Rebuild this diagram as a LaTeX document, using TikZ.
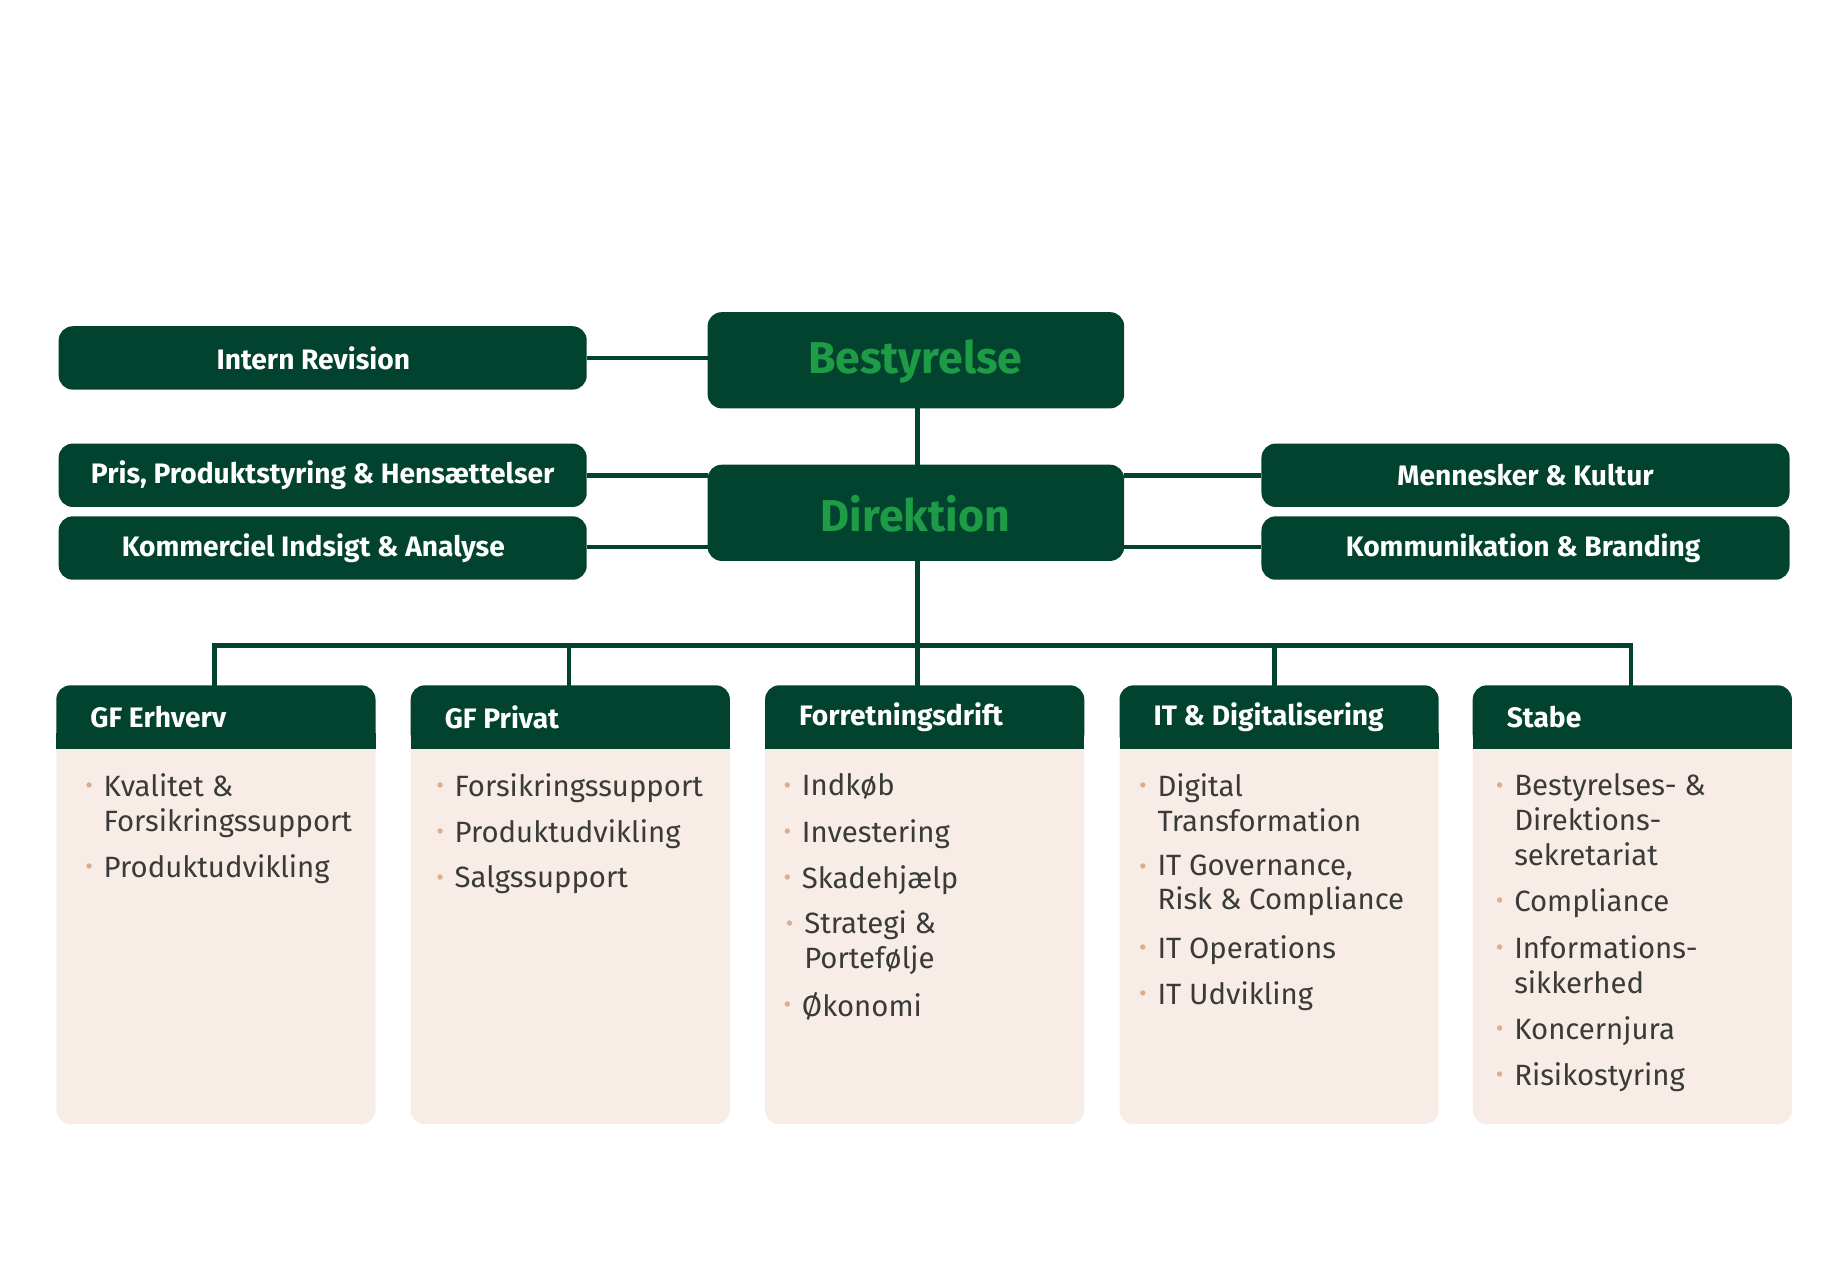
\documentclass[tikz,border=0pt]{standalone}
\usepackage{fontspec}
\setmainfont{Fira Sans}
\definecolor{dg}{HTML}{02432F}
\definecolor{tg}{HTML}{1E9C45}
\definecolor{bg}{HTML}{F8EDE6}
\definecolor{tan}{HTML}{D9AE8E}
\definecolor{tx}{HTML}{3A3A3A}
\begin{document}
\begin{tikzpicture}[x=0.5pt,y=-0.5pt,
 box/.style={fill=dg,rounded corners=6pt,draw=none},
 btxt/.style={text=white,font=\fontsize{12}{14}\selectfont\bfseries},
 big/.style={text=tg,font=\fontsize{19}{22}\selectfont\bfseries},
 ln/.style={dg,line width=2pt},
 it/.style={anchor=north west,inner sep=0pt,align=left,text=tx,font=\fontsize{12.5}{14.75}\selectfont},
 dot/.style={text=tan,font=\fontsize{10}{12}\selectfont}]
\useasboundingbox (0,0) rectangle (1568,1078);
% connectors first
\draw[ln] (500,305) -- (603,305);
\draw[ln] (782,348) -- (782,396);
\draw[ln] (500,405) -- (603,405);
\draw[ln] (500,466) -- (603,466);
\draw[ln] (958,405) -- (1075,405);
\draw[ln] (958,466) -- (1075,466);
\draw[ln] (782,478) -- (782,585);
\draw[ln] (183,585) -- (183,550) -- (1390,550) -- (1390,585);
\draw[ln] (485,550) -- (485,585);
\draw[ln] (1086,550) -- (1086,585);
% top boxes
\path[box] (50,278) rectangle (500,332); \node[btxt] (ir) at (267,305) {Intern Revision};
\path[box] (603,266) rectangle (958,348); \node[big] (be) at (780,308) {Bestyrelse};
\path[box] (603,396) rectangle (958,478); \node[big] (di) at (780,438) {Direktion};
\path[box] (50,378) rectangle (500,432); \node[btxt] (pr) at (275,405) {Pris, Produktstyring \& Hensættelser};
\path[box] (50,440) rectangle (500,494); \node[btxt] (ko) at (267,467) {Kommerciel Indsigt \& Analyse};
\path[box] (1075,378) rectangle (1525,432); \node[btxt] (me) at (1300,405) {Mennesker \& Kultur};
\path[box] (1075,440) rectangle (1525,494); \node[btxt] (kb) at (1298,467) {Kommunikation \& Branding};
% columns
\foreach \x/\t/\n in {48/GF Erhverv/c1,350/GF Privat/c2,652/Forretningsdrift/c3,954/IT \& Digitalisering/c4,1255/Stabe/c5}{
 \fill[bg,rounded corners=6pt] (\x,600) rectangle ++(272,358);
 \fill[dg,rounded corners=6pt] (\x,638) -- (\x,584) -- ++(272,0) -- ++(0,54) -- cycle;
 \fill[dg] (\x,625) rectangle ++(272,13);
 \node[btxt,anchor=west] (\n) at (\x+22,611) {\t};
}
\newcommand\itm[4]{\node[dot] (#1d) at (#2+28,#3) {•};
 \node[it] (#1) at (#2+40,#3-13) {#4};}
\itm{a1}{48}{672}{Kvalitet \&\\Forsikringssupport}
\itm{a2}{48}{741}{Produktudvikling}
\itm{b1}{347}{672}{Forsikringssupport}
\itm{b2}{347}{711}{Produktudvikling}
\itm{b3}{347}{750}{Salgssupport}
\itm{c1i}{643}{672}{Indkøb}
\itm{c2i}{643}{711}{Investering}
\itm{c3i}{643}{750}{Skadehjælp}
\itm{c4i}{645}{789}{Strategi \&\\Portefølje}
\itm{c5i}{643}{858}{Økonomi}
\itm{d1}{946}{672}{Digital\\Transformation}
\itm{d2}{946}{741}{IT Governance,\\Risk \& Compliance}
\itm{d3}{946}{810}{IT Operations}
\itm{d4}{946}{849}{IT Udvikling}
\itm{e1}{1250}{672}{Bestyrelses- \&\\Direktions-\\sekretariat}
\itm{e2}{1250}{770}{Compliance}
\itm{e3}{1250}{810}{Informations-\\sikkerhed}
\itm{e4}{1250}{879}{Koncernjura}
\itm{e5}{1250}{918}{Risikostyring}
\end{tikzpicture}
\end{document}
